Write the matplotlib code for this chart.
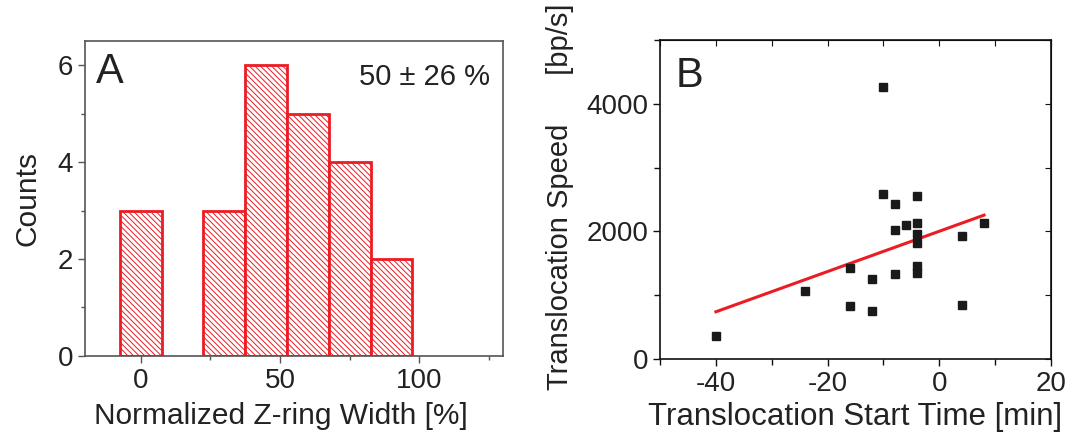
import numpy as np
import matplotlib.pyplot as plt
from matplotlib.ticker import MultipleLocator

plt.rcParams['font.family'] = ['Liberation Sans', 'DejaVu Sans']
plt.rcParams['hatch.linewidth'] = 0.7
plt.rcParams['axes.unicode_minus'] = False

# panel A: histogram of normalized Z-ring width
bin_centers = [0, 30, 45, 60, 75, 90]
counts = [3, 3, 6, 5, 4, 2]
bin_width = 15

# panel B: translocation start time vs speed
start_time = [-10, -10, -4, -8, -6, -4, -8, -4, -4, 4, 8,
              -16, -12, -8, -4, -4, -24, -16, -12, 4, -40]
speed = [4270, 2580, 2560, 2430, 2100, 2130, 2016, 1958, 1818, 1922, 2125,
         1422, 1250, 1333, 1464, 1344, 1073, 833, 755, 844, 359]
fit_x = [-40, 8]
fit_y = [740, 2255]

red = '#ec1c24'
txt = '#222222'

fig = plt.figure(figsize=(10.91, 4.36), dpi=100)

# A
ax1 = fig.add_axes([0.0779, 0.1835, 0.383, 0.723])
ax1.bar(bin_centers, counts, width=bin_width, color='white', edgecolor=red,
        linewidth=2, hatch='\\\\\\\\\\\\')
ax1.set_xlim(-20, 130)
ax1.set_ylim(0, 6.5)
ax1.xaxis.set_major_locator(MultipleLocator(50))
ax1.xaxis.set_minor_locator(MultipleLocator(25))
ax1.yaxis.set_major_locator(MultipleLocator(2))
ax1.yaxis.set_minor_locator(MultipleLocator(1))
ax1.tick_params(which='both', direction='out', colors='#555555', labelcolor=txt,
                labelsize=20, width=1)
ax1.tick_params(which='major', length=5)
ax1.tick_params(which='minor', length=3)
for s in ax1.spines.values():
    s.set_color('#555555')
    s.set_linewidth(1.2)
ax1.set_xlabel('Normalized Z-ring Width [%]', fontsize=21.5, color=txt)
ax1.xaxis.set_label_coords(0.468, -0.145)
ax1.set_ylabel('Counts', fontsize=21.5, color=txt, labelpad=12)
ax1.text(0.025, 0.965, 'A', transform=ax1.transAxes, fontsize=30, color=txt,
         va='top', ha='left')
ax1.text(0.97, 0.93, '50 \u00b1 26 %', transform=ax1.transAxes, fontsize=21,
         color=txt, va='top', ha='right')

# B
ax2 = fig.add_axes([0.605, 0.1766, 0.3584, 0.7317])
ax2.plot(fit_x, fit_y, color=red, linewidth=2.2, zorder=2)
ax2.plot(start_time, speed, 's', color='#1a1a1a', markersize=5.5, zorder=3)
ax2.set_xlim(-50, 20)
ax2.set_ylim(0, 5000)
ax2.xaxis.set_major_locator(MultipleLocator(20))
ax2.xaxis.set_minor_locator(MultipleLocator(10))
ax2.yaxis.set_major_locator(MultipleLocator(2000))
ax2.yaxis.set_minor_locator(MultipleLocator(1000))
ax2.tick_params(which='both', direction='out', colors='#111111', labelcolor=txt,
                labelsize=20, width=1)
ax2.tick_params(which='major', length=5)
ax2.tick_params(which='minor', length=4)
for s in ax2.spines.values():
    s.set_color('#111111')
    s.set_linewidth(1.2)
ax2.set_xlabel('Translocation Start Time [min]', fontsize=22.5, color=txt, labelpad=4)
ax2.set_ylabel('Translocation Speed      [bp/s]', fontsize=21, color=txt)
ax2.yaxis.set_label_coords(-0.22, 0.51)
ax2.text(0.04, 0.95, 'B', transform=ax2.transAxes, fontsize=30, color=txt,
         va='top', ha='left')

# mirrored inward ticks on top and right
top = ax2.secondary_xaxis('top')
top.xaxis.set_major_locator(MultipleLocator(10))
top.tick_params(direction='in', length=4, labeltop=False, colors='#111111')
right = ax2.secondary_yaxis('right')
right.yaxis.set_major_locator(MultipleLocator(1000))
right.tick_params(direction='in', length=4, labelright=False, colors='#111111')

fig.savefig('out.png', dpi=100)
